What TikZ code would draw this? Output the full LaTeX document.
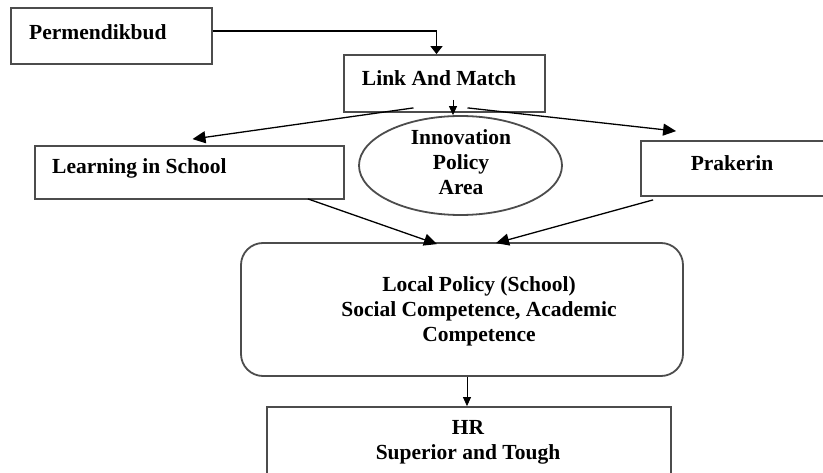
\documentclass[tikz,border=0pt]{standalone}
\usepackage{fontspec}
\setmainfont{Liberation Serif}
\usetikzlibrary{arrows.meta,shapes.geometric,positioning,calc}

\begin{document}
\begin{tikzpicture}[x=1pt,y=-1pt,
	box/.style={draw=black!70,line width=1.8pt,inner sep=0pt},
	txt/.style={font=\fontsize{21.5}{25}\selectfont\bfseries,align=center,inner sep=0pt},
	arr/.style={-{Triangle[length=13pt,width=12pt]},line width=1.3pt},
	flat/.style={-{Triangle[length=8pt,width=12pt]},line width=1.3pt},
	thin/.style={-{Triangle[length=9pt,width=8pt]},line width=0.8pt}]
	\clip (0,0) rectangle (823,473);

	% boxes
	\node[box,minimum width=201pt,minimum height=56pt ] (perm)  at (111.5,36   ) {};
	\node[box,minimum width=201pt,minimum height=57pt ] (link)  at (444.5,83.5 ) {};
	\node[box,minimum width=309pt,minimum height=53pt ] (learn) at (189.5,172.5) {};
	\node[box,minimum width=200pt,minimum height=55pt ] (prak)  at (741,168.5  ) {};
	\node[box,ellipse,minimum width=203pt,minimum height=99pt] (area) at (460.5,165.5) {};
	\node[box,rounded corners=22pt,minimum width=442pt,minimum height=133pt] (local) at (462,309.5) {};
	\node[box,minimum width=404pt,minimum height=90pt ] (hr)    at (469,452    ) {};

	% texts
	\node[txt,anchor=west] (perm-t)  at (29,32  ) {Permendikbud};
	\node[txt          ] (link-t)  at (439,78  ) {Link And Match};
	\node[txt,anchor=west] (learn-t) at (52,168 ) {Learning in School};
	\node[txt          ] (prak-t)  at (732,163 ) {Prakerin};
	\node[txt          ] (area-t)  at (461,162 ) {Innovation\\ Policy\\ Area};
	\node[txt          ] (local-t) at (479,311 ) {Local Policy (School)\\ Social Competence, Academic\\ Competence};
	\node[txt          ] (hr-t)    at (468,442 ) {HR\\ Superior and Tough};

	% connectors
	\draw[flat] ($(perm.east)+(0,-5)$) -| ($(link.north)+(-8,0)$);
	\draw[arr ] ($(link.south)+(-31,-5)$) -- ($(learn.north)+(3,-6)$);
	\draw[arr ] ($(link.south)+(23,-5)$)  -- ($(prak.north west)+(36,-9)$);
	\draw[thin] ($(link.south)+(8.5,-13)$) coordinate (lm) -- (lm |- area.north);
	\draw[arr ] ($(learn.south east)+(-37,-1)$) -- ($(local.north)+(-25,2)$);
	\draw[arr ] ($(prak.south west)+(13,3)$)    -- ($(local.north)+(34,1)$);
	\draw[thin] ($(local.south)+(5,0)$) coordinate (lh) -- (lh |- hr.north);
\end{tikzpicture}
\end{document}
